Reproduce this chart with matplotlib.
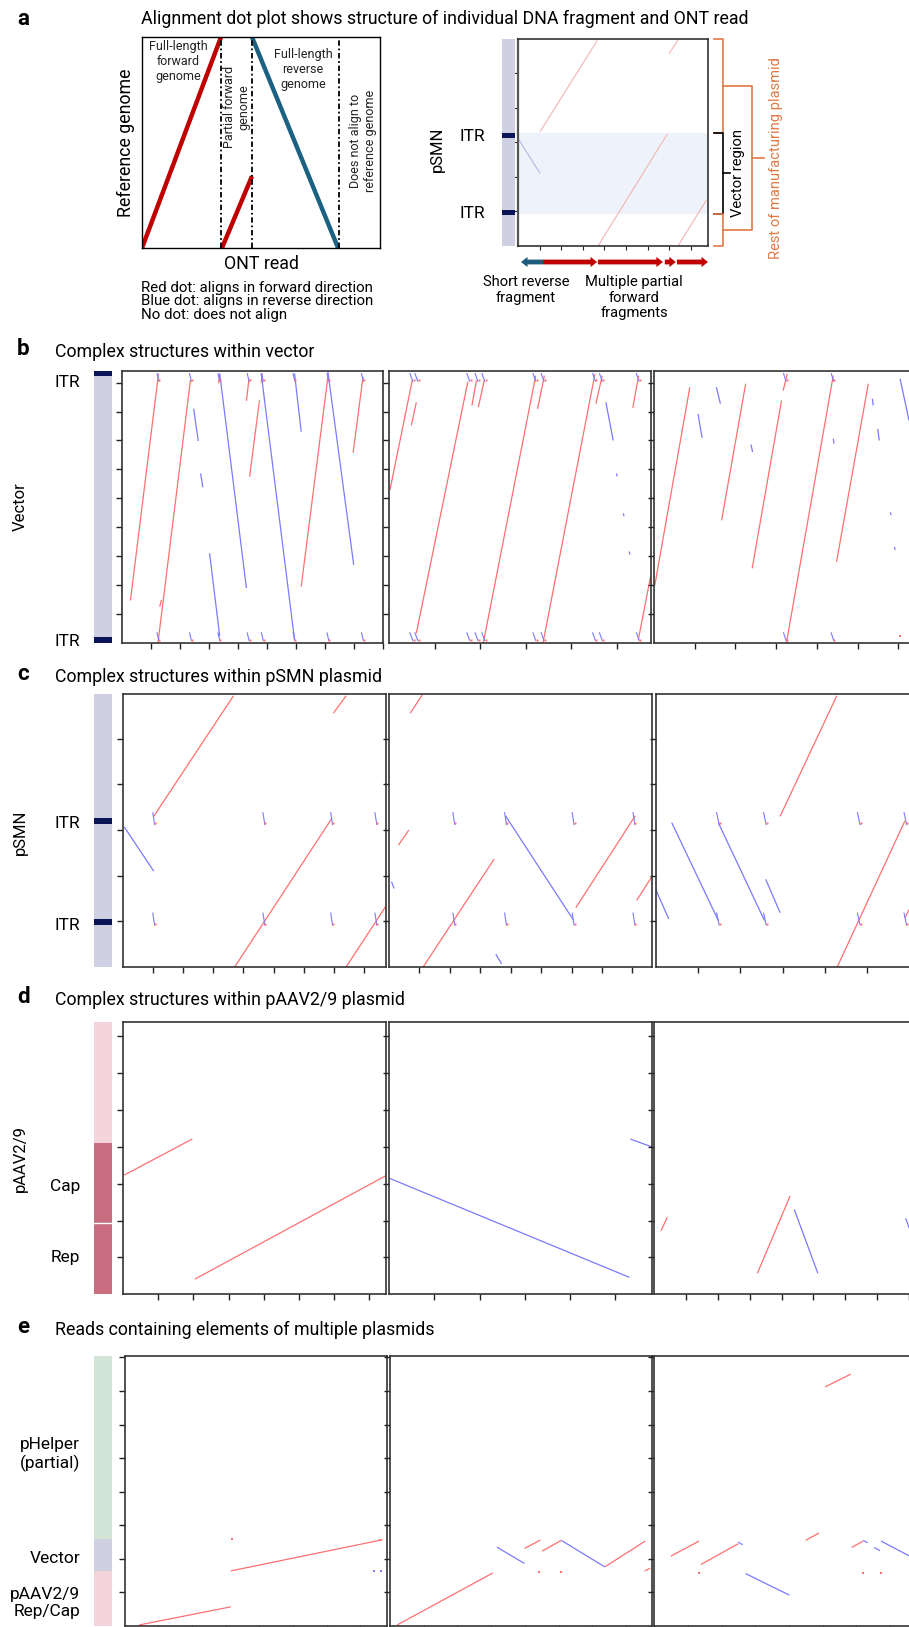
import numpy as np
import matplotlib
matplotlib.use('Agg')
import matplotlib.pyplot as plt
from matplotlib.patches import FancyArrow

W, H = 909, 1627
plt.rcParams['font.family'] = ['Roboto', 'DejaVu Sans']

RED = '#ff7070'
BLUE = '#7a7aff'
RED_FADE = '#f3b4b4'
BLUE_FADE = '#b4b9e2'
LAV = '#cfd1e2'
NAVY = '#0b1457'
PINK = '#f4d5dc'
ROSE = '#c96e80'
GREEN = '#d2e4d5'
ORANGE = '#e07a45'

# ---- panel a: schematic (read position / reference position, 0-1)
schem_fwd = [(0.0, 0.0, 0.332, 1.0), (0.336, 0.0, 0.462, 0.34)]
schem_rev = [(0.462, 1.0, 0.824, 0.0)]
schem_breaks = [0.333, 0.462, 0.828]

# read fragments drawn under the pSMN example (start, end) in read units
frag_rev = [(1.16, 0.14)]
frag_fwd = [(1.16, 3.66), (3.70, 6.71), (6.80, 7.31), (7.36, 8.80)]

# ---- panel b: vector dot plots (x0, y0, x1, y1)
b1_fwd = [(0.29, 1.47, 1.26, 9.31), (1.24, 0.00, 2.36, 9.08), (3.33, 8.97, 3.37, 9.31),
          (4.29, 8.37, 4.38, 9.14), (4.40, 5.75, 4.74, 8.39), (4.80, 9.00, 4.84, 9.31),
          (6.18, 1.95, 7.10, 9.20), (7.97, 6.57, 8.31, 9.20), (1.30, 1.26, 1.36, 1.49)]
b1_rev = [(3.37, 9.31, 4.29, 1.90), (4.80, 9.31, 5.95, 0.11), (5.95, 9.31, 6.18, 7.30),
          (7.10, 9.37, 7.99, 2.70), (2.47, 8.10, 2.63, 6.98), (2.71, 5.86, 2.79, 5.38),
          (3.02, 3.10, 3.37, 0.23)]
b1_itr = [1.24, 2.36, 3.34, 4.35, 4.84, 5.93, 7.10, 8.29]

b2_fwd = [(0.02, 5.28, 0.51, 9.07), (0.49, 7.52, 0.60, 8.32), (0.60, 0.34, 1.73, 9.03),
          (1.82, 8.21, 1.92, 9.07), (1.96, 8.15, 2.09, 9.07), (2.07, 0.00, 3.22, 9.24),
          (3.26, 8.09, 3.41, 9.24), (3.38, 0.00, 4.52, 9.30), (4.54, 8.27, 4.68, 9.24),
          (5.47, 0.10, 5.74, 2.29), (5.35, 8.13, 5.48, 9.24)]
b2_rev = [(4.76, 8.32, 4.92, 7.00), (4.99, 5.86, 5.01, 5.76), (5.14, 4.48, 5.16, 4.38),
          (5.27, 3.16, 5.29, 3.06)]
b2_itr = [0.49, 0.60, 1.74, 1.92, 2.07, 3.19, 3.37, 4.50, 4.65, 5.46]

b3_fwd = [(0.02, 2.00, 0.88, 8.84), (1.66, 4.24, 2.25, 8.96), (2.41, 2.58, 3.13, 8.38),
          (3.17, 8.72, 3.27, 9.30), (3.25, 0.00, 4.40, 9.24), (4.48, 2.80, 5.26, 8.96)]
b3_rev = [(1.53, 8.84, 1.63, 8.27), (1.08, 7.92, 1.18, 7.09), (2.38, 6.86, 2.42, 6.60),
          (4.40, 7.06, 4.42, 6.89), (5.36, 8.44, 5.38, 8.21), (5.49, 7.40, 5.53, 7.00),
          (6.04, 9.13, 6.26, 7.69), (5.80, 4.52, 5.82, 4.42), (5.90, 3.32, 5.92, 3.22)]
b3_itr = [3.21, 4.38]

# ---- panel c: pSMN dot plots
c1_fwd = [(1.02, 3.30, 3.67, 5.94), (6.99, 5.56, 7.41, 5.94), (3.71, 0.00, 6.93, 3.25),
          (7.41, 0.00, 8.72, 1.32)]
c1_rev = [(0.04, 3.07, 1.02, 2.10)]
c1_itr = [1.02, 4.68, 6.93, 8.40]

c2_fwd = [(0.70, 5.56, 1.09, 5.96), (0.31, 2.67, 0.65, 3.00), (1.12, 0.00, 3.45, 2.36),
          (6.14, 1.30, 8.09, 3.31), (8.14, 1.46, 8.63, 1.97)]
c2_rev = [(3.83, 3.31, 6.05, 1.04), (0.08, 1.87, 0.17, 1.72), (3.51, 0.28, 3.70, 0.07)]
c2_itr = [2.13, 3.83, 6.05, 8.05]

c3_fwd = [(2.94, 3.30, 4.28, 5.94), (4.29, 0.00, 5.89, 3.20), (5.89, 1.08, 5.99, 1.26)]
c3_rev = [(0.38, 3.16, 1.48, 1.02), (1.48, 3.16, 2.57, 1.02), (2.60, 1.92, 2.94, 1.19),
          (0.00, 1.70, 0.31, 1.05)]
c3_itr = [1.47, 2.58, 4.80, 5.90]

pSMN_itr = [3.20, 0.98]

# ---- panel d: pAAV2/9 dot plots
d1_fwd = [(0.03, 3.23, 1.97, 4.21), (2.04, 0.41, 7.46, 3.21)]
d1_rev = []
d2_fwd = []
d2_rev = [(0.02, 3.14, 5.31, 0.46), (5.33, 4.21, 5.84, 3.98)]
d3_fwd = [(0.21, 1.72, 0.41, 2.09), (3.24, 0.57, 4.27, 2.67)]
d3_rev = [(4.40, 2.30, 5.14, 0.57), (7.90, 2.06, 8.10, 1.60)]

# ---- panel e: multi-plasmid reads
e1_fwd = [(0.43, 0.03, 3.15, 0.57), (3.15, 1.64, 7.66, 2.57)]
e1_rev = []
e1_dots_f = [(3.18, 2.58), (7.57, 2.57)]
e1_dots_r = [(7.40, 1.64), (7.60, 1.64)]
e2_fwd = [(0.21, 0.03, 3.05, 1.58), (3.99, 2.31, 4.46, 2.56), (4.51, 2.23, 5.08, 2.55),
          (6.37, 1.76, 7.57, 2.53), (7.55, 1.64, 7.72, 1.72)]
e2_rev = [(3.17, 2.35, 3.99, 1.86), (5.08, 2.55, 6.37, 1.76)]
e2_dots_f = [(4.42, 1.61), (5.06, 1.61)]
e3_fwd = [(5.07, 7.12, 5.83, 7.50), (0.49, 2.08, 1.33, 2.53), (1.38, 1.83, 2.49, 2.45),
          (4.49, 2.55, 4.89, 2.77), (5.86, 2.34, 6.20, 2.53)]
e3_rev = [(2.49, 2.50, 2.62, 2.42), (2.71, 1.56, 4.01, 0.92), (6.20, 2.55, 6.33, 2.48),
          (6.53, 2.34, 6.70, 2.24), (6.73, 2.53, 7.56, 2.09)]
e3_dots_f = [(1.33, 1.59), (6.20, 1.59), (6.73, 1.59)]

# ---- annotation tracks (y0, y1, colour)
track_b = [(0, 9.4, LAV), (9.22, 9.4, NAVY), (0, 0.2, NAVY)]
track_c = [(0, 6.0, LAV), (3.13, 3.27, NAVY), (0.91, 1.05, NAVY)]
track_d = [(0, 4.10, ROSE), (4.10, 7.39, PINK)]
track_e = [(0, 1.64, PINK), (1.64, 2.58, LAV), (2.58, 8.05, GREEN)]

fig = plt.figure(figsize=(W / 100, H / 100), dpi=100)


def px_axes(x0, y0, x1, y1):
    return fig.add_axes([x0 / W, 1 - y1 / H, (x1 - x0) / W, (y1 - y0) / H])


def ftxt(x, y, s, **kw):
    fig.text(x / W, 1 - y / H, s, **kw)


def segs(ax, lines, color, lw):
    for x0, y0, x1, y1 in lines:
        ax.plot([x0, x1], [y0, y1], color=color, lw=lw, solid_capstyle='butt')


def dotplot(ax, fwd, rev, xmax, ymax, itr_x=(), itr_y=(), dots_f=(), dots_r=(),
            fc=RED, rc=BLUE, lw=0.9):
    segs(ax, fwd, fc, lw)
    segs(ax, rev, rc, lw)
    for x, y in dots_f:
        ax.plot(x, y, 's', color=fc, ms=1.6, mew=0)
    for x, y in dots_r:
        ax.plot(x, y, 's', color=rc, ms=1.6, mew=0)
    for x in itr_x:
        for y in itr_y:
            ax.plot([x - 0.03, x + 0.03], [y + 0.13, y - 0.13], color=rc, lw=0.8)
            ax.plot(x + 0.05, y - 0.1, 's', color=fc, ms=1.4, mew=0)
    ax.set_xlim(0, xmax)
    ax.set_ylim(0, ymax)
    ax.set_xticks(np.arange(1, int(xmax) + 1))
    ax.set_yticks(np.arange(1, int(ymax) + 1))
    ax.tick_params(direction='out', length=4, width=1, color='#222',
                   labelleft=False, labelbottom=False)
    for s in ax.spines.values():
        s.set_linewidth(1.2)
        s.set_color('#333333')


def track(ax, blocks, ymax, labels, label_y, size=12.5):
    for y0, y1, c in blocks:
        ax.axhspan(y0, y1, color=c, lw=0)
    ax.set_xlim(0, 1)
    ax.set_ylim(0, ymax)
    ax.set_xticks([])
    ax.set_yticks(label_y, labels)
    ax.tick_params(axis='y', length=0, pad=10, labelsize=size)
    for s in ax.spines.values():
        s.set_visible(False)


# ================= panel a =================
ftxt(17, 19, 'a', fontsize=16, fontweight='bold', va='center')
ftxt(141, 19, 'Alignment dot plot shows structure of individual DNA fragment and ONT read',
     fontsize=12.8, va='center')

ax = px_axes(142, 37, 380, 248)
segs(ax, schem_fwd, '#c00000', 3.2)
segs(ax, schem_rev, '#1b6282', 3.2)
for x in schem_breaks:
    ax.axvline(x, color='k', lw=1.3, ls=(0, (3, 1.5, 1, 1.5)))
ax.set_xlim(0, 1)
ax.set_ylim(0, 1)
ax.set_xticks([])
ax.set_yticks([])
for s in ax.spines.values():
    s.set_linewidth(1)
ax.set_xlabel('ONT read', fontsize=12.8, labelpad=5)
ax.set_ylabel('Reference genome', fontsize=12.8, labelpad=5)
sk = dict(fontsize=9, ha='center', va='center', color='#222', linespacing=1.2)
ax.text(0.151, 0.886, 'Full-length\nforward\ngenome', **sk)
ax.text(0.398, 0.668, 'Partial forward\ngenome', rotation=90, **sk)
ax.text(0.676, 0.848, 'Full-length\nreverse\ngenome', **sk)
ax.text(0.929, 0.507, 'Does not align to\nreference genome', rotation=90, **sk)
ftxt(141, 281, 'Red dot: aligns in forward direction\nBlue dot: aligns in reverse direction\n'
     'No dot: does not align', fontsize=10.8, va='top', linespacing=0.95)

# right schematic (pSMN example read)
ax = px_axes(518, 39, 708, 246)
ax.axhspan(0.92, 3.27, color='#eef3fb', lw=0)
dotplot(ax, c1_fwd, c1_rev, 8.8, 5.98, fc=RED_FADE, rc=BLUE_FADE, lw=0.8)
ax.tick_params(length=3, width=0.8)
ax.spines['left'].set_color('#555555')
ax.spines['left'].set_linewidth(1.6)
yt = ax.get_yaxis_transform()
ob = dict(transform=yt, clip_on=False, lw=1.2)
ax.plot([1.032, 1.079, 1.079, 1.032], [5.98, 5.98, 3.27, 3.27], color=ORANGE, **ob)
ax.plot([1.032, 1.079, 1.079, 1.032], [3.27, 3.27, 0.92, 0.92], color='k', **ob)
ax.plot([1.079, 1.116], [2.1, 2.1], color='k', **ob)
ax.plot([1.032, 1.079, 1.079, 1.032], [0.92, 0.92, 0.0, 0.0], color=ORANGE, **ob)
ax.plot([1.079, 1.232, 1.232, 1.079], [4.63, 4.63, 0.46, 0.46], color=ORANGE, **ob)
ax.plot([1.232, 1.295], [2.55, 2.55], color=ORANGE, **ob)
ax.text(1.158, 2.1, 'Vector region', transform=yt, rotation=90, fontsize=10.6,
        ha='center', va='center')
ax.text(1.358, 2.55, 'Rest of manufacturing plasmid', transform=yt, rotation=90,
        fontsize=10.6, ha='center', va='center', color=ORANGE)

ax = px_axes(502, 39, 515, 246)
track(ax, track_c, 5.98, ['ITR', 'ITR'], pSMN_itr)
ax.tick_params(axis='y', pad=12)
ftxt(437, 149, 'pSMN', rotation=90, fontsize=12, ha='center', va='center')

ax = px_axes(518, 256, 708, 268)
for x0, x1 in frag_rev:
    ax.add_patch(FancyArrow(x0, 0, x1 - x0, 0, width=0.8, head_width=1.7, head_length=0.3,
                            length_includes_head=True, color='#1f5c7a', lw=0))
for x0, x1 in frag_fwd:
    ax.add_patch(FancyArrow(x0, 0, x1 - x0, 0, width=0.8, head_width=1.7, head_length=0.3,
                            length_includes_head=True, color='#c00000', lw=0))
ax.set_xlim(0, 8.8)
ax.set_ylim(-1, 1)
ax.axis('off')
ftxt(526, 275, 'Short reverse\nfragment', fontsize=10.6, ha='center', va='top', linespacing=1.15)
ftxt(634, 275, 'Multiple partial\nforward\nfragments', fontsize=10.6, ha='center', va='top',
     linespacing=1.15)

# ================= panels b-e =================
rows = [
    dict(letter='b', title='Complex structures within vector', ty=352, y0=371, y1=643,
         name='Vector', ny=507, track=track_b, ymax=9.4, tl=['ITR', 'ITR'], tly=[9.05, 0.1],
         xs=[(122, 383), (389, 651), (654, 940)],
         plots=[(b1_fwd, b1_rev, 9.0, b1_itr, (), ()),
                (b2_fwd, b2_rev, 5.75, b2_itr, (), ()),
                (b3_fwd, b3_rev, 7.02, b3_itr, [(6.04, 0.24)], ())],
         itr_y=[9.18, 0.22]),
    dict(letter='c', title='Complex structures within pSMN plasmid', ty=677, y0=694, y1=967,
         name='pSMN', ny=832, track=track_c, ymax=5.98, tl=['ITR', 'ITR'], tly=[3.17, 0.95],
         xs=[(123, 385.5), (389, 651.6), (655.7, 940)],
         plots=[(c1_fwd, c1_rev, 8.72, c1_itr, (), ()),
                (c2_fwd, c2_rev, 8.63, c2_itr, (), ()),
                (c3_fwd, c3_rev, 6.72, c3_itr, (), ())],
         itr_y=[3.25, 1.05]),
    dict(letter='d', title='Complex structures within pAAV2/9 plasmid', ty=1000, y0=1021.7,
         y1=1294.3, name='pAAV2/9', ny=1158, track=track_d, ymax=7.39, tl=['Cap', 'Rep'],
         tly=[2.96, 1.04], xs=[(123, 385.5), (389, 651.6), (654.3, 940)],
         plots=[(d1_fwd, d1_rev, 7.46, (), (), ()),
                (d2_fwd, d2_rev, 5.8, (), (), ()),
                (d3_fwd, d3_rev, 8.98, (), (), ())],
         itr_y=[]),
    dict(letter='e', title='Reads containing elements of multiple plasmids', ty=1330,
         y0=1355.7, y1=1626, name=None, ny=None, track=track_e, ymax=8.05,
         tl=['pHelper\n(partial)', 'Vector', 'pAAV2/9\nRep/Cap'], tly=[5.2, 2.06, 0.77],
         xs=[(124.6, 386.7), (390, 652), (654.3, 940)],
         plots=[(e1_fwd, e1_rev, 7.78, (), e1_dots_f, e1_dots_r),
                (e2_fwd, e2_rev, 7.77, (), e2_dots_f, ()),
                (e3_fwd, e3_rev, 8.48, (), e3_dots_f, ())],
         itr_y=[]),
]

for r in rows:
    ftxt(17, r['ty'] - 3, r['letter'], fontsize=16, fontweight='bold', va='center')
    ftxt(55, r['ty'], r['title'], fontsize=12.8, va='center')
    ax = px_axes(94, r['y0'], 112, r['y1'])
    track(ax, r['track'], r['ymax'], r['tl'], r['tly'])
    if r['letter'] == 'd':
        ax.axhline(1.93, color='white', lw=1)
    if r['name']:
        ftxt(20, r['ny'], r['name'], rotation=90, fontsize=12, ha='center', va='center')
    for (x0, x1), (fwd, rev, xmax, itr, df, dr) in zip(r['xs'], r['plots']):
        ax = px_axes(x0, r['y0'], x1, r['y1'])
        dotplot(ax, fwd, rev, xmax, r['ymax'], itr_x=itr, itr_y=r['itr_y'],
                dots_f=df, dots_r=dr)

fig.savefig('out.png', dpi=100)
